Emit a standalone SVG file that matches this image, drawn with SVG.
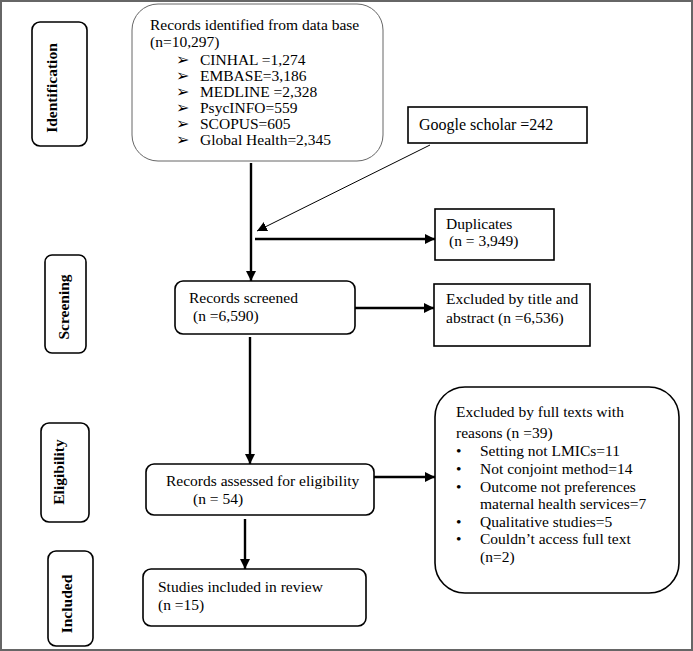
<svg xmlns="http://www.w3.org/2000/svg" width="693" height="651" viewBox="0 0 693 651">
<style>
text{font-family:"Liberation Serif","Times New Roman",serif;font-size:15.5px;fill:#000}
.lbl{font-weight:bold;font-size:15.5px}
.box{fill:#fff;stroke:#000;stroke-width:1.6}
.thin{fill:#fff;stroke:#666;stroke-width:1}
.con{stroke:#000;stroke-width:2.4;fill:none}
.dia{stroke:#000;stroke-width:1;fill:none}
</style>
<defs>
<marker id="ah" markerUnits="userSpaceOnUse" markerWidth="10" markerHeight="10" viewBox="0 0 10 10" refX="10" refY="5" orient="auto">
<path d="M0,0 L10,5 L0,10 z" fill="#000"/>
</marker>
</defs>
<rect x="1" y="1" width="691" height="649" fill="#fff" stroke="#666" stroke-width="2"/>

<g id="lbl-identification">
<rect class="box" x="32" y="22" width="55" height="124" rx="8"/>
<text class="lbl" transform="translate(57,88) rotate(-90)" text-anchor="middle">Identification</text>
</g>
<g id="lbl-screening">
<rect class="box" x="45" y="255" width="41" height="98" rx="7"/>
<text class="lbl" transform="translate(69,307) rotate(-90)" text-anchor="middle">Screening</text>
</g>
<g id="lbl-eligibility">
<rect class="box" x="41" y="423" width="48" height="99" rx="8"/>
<text class="lbl" transform="translate(64,472) rotate(-90)" text-anchor="middle">Eligibility</text>
</g>
<g id="lbl-included">
<rect class="box" x="48" y="551" width="45" height="95" rx="8"/>
<text class="lbl" transform="translate(72,604) rotate(-90)" text-anchor="middle">Included</text>
</g>

<g id="node-database">
<rect class="thin" x="132" y="4" width="251" height="157" rx="26"/>
<text x="150" y="30">Records identified from data base</text>
<text x="150" y="47">(n=10,297)</text>
<text x="176" y="65">➢</text><text x="200" y="65">CINHAL =1,274</text>
<text x="176" y="81">➢</text><text x="200" y="81">EMBASE=3,186</text>
<text x="176" y="97">➢</text><text x="200" y="97">MEDLINE =2,328</text>
<text x="176" y="113">➢</text><text x="200" y="113">PsycINFO=559</text>
<text x="176" y="129">➢</text><text x="200" y="129">SCOPUS=605</text>
<text x="176" y="145">➢</text><text x="200" y="145">Global Health=2,345</text>
</g>

<g id="node-google">
<rect class="box" x="408" y="107" width="179" height="36"/>
<text x="419" y="130" style="font-size:16px">Google scholar =242</text>
</g>

<g id="node-duplicates">
<rect class="box" x="435" y="209" width="119" height="51"/>
<text x="446" y="229">Duplicates</text>
<text x="449" y="246">(n = 3,949)</text>
</g>

<g id="node-screened">
<rect class="box" x="175" y="281" width="180" height="53" rx="8"/>
<text x="189" y="303">Records screened</text>
<text x="193" y="321">(n =6,590)</text>
</g>

<g id="node-excluded-title">
<rect class="box" x="434" y="284" width="156" height="62"/>
<text x="446" y="304">Excluded by title and</text>
<text x="446" y="323">abstract (n =6,536)</text>
</g>

<g id="node-eligibility">
<rect class="box" x="146" y="464" width="228" height="51" rx="8"/>
<text x="166" y="486">Records assessed for eligibility</text>
<text x="193" y="504">(n = 54)</text>
</g>

<g id="node-excluded-full">
<rect class="box" x="435" y="387" width="244" height="206" rx="30"/>
<text x="456" y="417">Excluded by full texts with</text>
<text x="456" y="438">reasons (n =39)</text>
<text x="456" y="456">•</text><text x="480" y="456">Setting not LMICs=11</text>
<text x="456" y="474">•</text><text x="480" y="474">Not conjoint method=14</text>
<text x="456" y="492">•</text><text x="480" y="492">Outcome not preferences</text>
<text x="480" y="509">maternal health services=7</text>
<text x="456" y="527">•</text><text x="480" y="527">Qualitative studies=5</text>
<text x="456" y="544">•</text><text x="480" y="544">Couldn’t access full text</text>
<text x="480" y="562">(n=2)</text>
</g>

<g id="node-included">
<rect class="box" x="143" y="569" width="223" height="57" rx="8"/>
<text x="158" y="592">Studies included in review</text>
<text x="158" y="610">(n =15)</text>
</g>

<g id="connectors">
<line class="con" x1="251" y1="163" x2="251" y2="281" marker-end="url(#ah)"/>
<line class="dia" x1="430" y1="145" x2="257" y2="231" marker-end="url(#ah)"/>
<line class="con" x1="255" y1="239" x2="435" y2="239" marker-end="url(#ah)"/>
<line class="con" x1="355" y1="308" x2="434" y2="308" marker-end="url(#ah)"/>
<line class="con" x1="250" y1="337" x2="250" y2="464" marker-end="url(#ah)"/>
<line class="con" x1="374" y1="477" x2="435" y2="477" marker-end="url(#ah)"/>
<line class="con" x1="245" y1="519" x2="245" y2="569" marker-end="url(#ah)"/>
</g>
</svg>
